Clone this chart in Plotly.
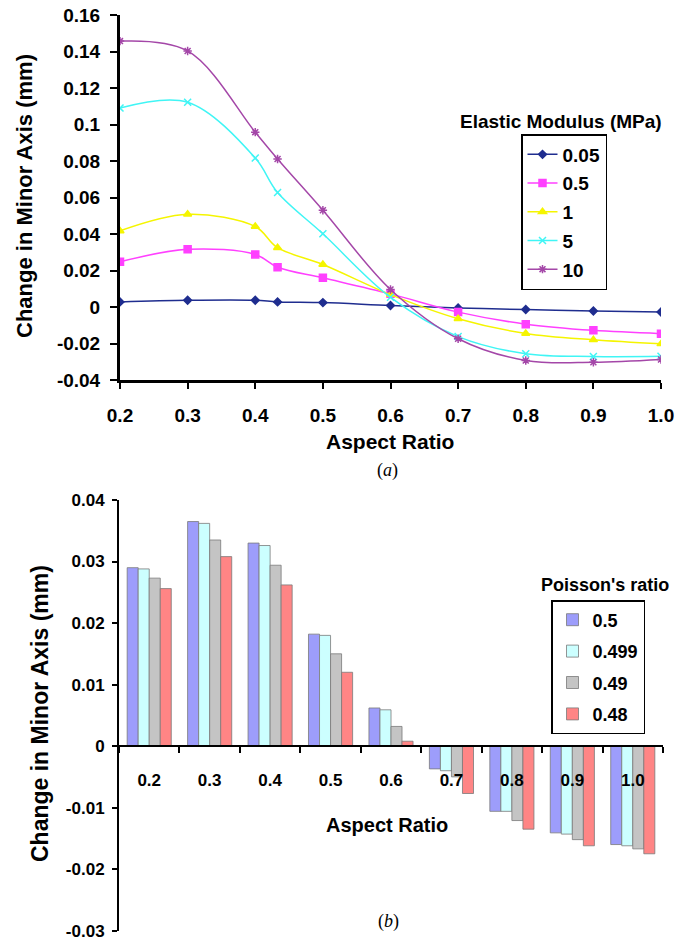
import plotly.graph_objects as go

W, H = 675, 942

# ---------------- (a) Elastic modulus, line chart ----------------
aspect_a = [0.2, 0.3, 0.4, 0.433, 0.5, 0.6, 0.7, 0.8, 0.9, 1.0]
modulus_names = ["0.05", "0.5", "1", "5", "10"]
e_005 = [0.0028, 0.0037, 0.0037, 0.0028, 0.0024, 0.0008, -0.0005, -0.0014, -0.0022, -0.0027]
e_05 = [0.0248, 0.0316, 0.0288, 0.0218, 0.0160, 0.0072, -0.0028, -0.0094, -0.0128, -0.0146]
e_1 = [0.0417, 0.0508, 0.0441, 0.0325, 0.0233, 0.0068, -0.0064, -0.0145, -0.0180, -0.0202]
e_5 = [0.1090, 0.1122, 0.0816, 0.0627, 0.0401, 0.0053, -0.0162, -0.0256, -0.0271, -0.0270]
e_10 = [0.1457, 0.1403, 0.0958, 0.0811, 0.0530, 0.0096, -0.0174, -0.0293, -0.0303, -0.0288]

a_yticks = [0.16, 0.14, 0.12, 0.10, 0.08, 0.06, 0.04, 0.02, 0.0, -0.02, -0.04]
a_yticktext = ["0.16", "0.14", "0.12", "0.1", "0.08", "0.06", "0.04", "0.02", "0", "-0.02", "-0.04"]
a_xticks = [0.2, 0.3, 0.4, 0.5, 0.6, 0.7, 0.8, 0.9, 1.0]
a_xticktext = ["0.2", "0.3", "0.4", "0.5", "0.6", "0.7", "0.8", "0.9", "1.0"]

# ---------------- (b) Poisson's ratio, bar chart ----------------
aspect_b = ["0.2", "0.3", "0.4", "0.5", "0.6", "0.7", "0.8", "0.9", "1.0"]
poisson_names = ["0.5", "0.499", "0.49", "0.48"]
p_05 = [0.0290, 0.0365, 0.0330, 0.0182, 0.0062, -0.0037, -0.0106, -0.0141, -0.0160]
p_0499 = [0.0288, 0.0362, 0.0326, 0.0180, 0.0059, -0.0040, -0.0106, -0.0143, -0.0162]
p_049 = [0.0273, 0.0335, 0.0294, 0.0150, 0.0032, -0.0050, -0.0121, -0.0152, -0.0167]
p_048 = [0.0256, 0.0308, 0.0262, 0.0120, 0.0008, -0.0077, -0.0135, -0.0162, -0.0175]

b_yticks = [0.04, 0.03, 0.02, 0.01, 0.0, -0.01, -0.02, -0.03]
b_yticktext = ["0.04", "0.03", "0.02", "0.01", "0", "-0.01", "-0.02", "-0.03"]

FONT = "Liberation Sans, Arial, sans-serif"
SERIF = "Liberation Serif, Times New Roman, serif"


def px_x(p):
    return p / W


def px_y(p):
    return 1 - p / H


fig = go.Figure()

line_series = [e_005, e_05, e_1, e_5, e_10]
line_colors = ["#1f2d8f", "#ff40ff", "#f5f500", "#40f5f5", "#a447a8"]
line_symbols = ["diamond", "square", "triangle-up", "x-thin-open", "asterisk-open"]
line_sizes = [6, 7, 7, 7, 7]
for name, ys, col, sym, sz in zip(modulus_names, line_series, line_colors, line_symbols, line_sizes):
    fig.add_trace(go.Scatter(
        x=aspect_a, y=ys, name=name, mode="lines+markers",
        line=dict(color=col, width=1.5, shape="spline", smoothing=1.0),
        marker=dict(symbol=sym, size=sz, color=col, line=dict(color=col, width=1.5)),
        xaxis="x", yaxis="y", legend="legend", legendgroup="a" + name,
    ))

bar_series = [p_05, p_0499, p_049, p_048]
bar_colors = ["#9d9dfb", "#ccffff", "#c4c4c4", "#ff8585"]
for name, ys, col in zip(poisson_names, bar_series, bar_colors):
    fig.add_trace(go.Bar(
        x=aspect_b, y=ys, name=name,
        marker=dict(color=col, line=dict(color="#7a7a7a", width=0.8)),
        xaxis="x2", yaxis="y2", legend="legend2", legendgroup="b" + name,
    ))

# plot area pixels
a_left, a_right, a_top, a_bottom = 120, 661, 15, 380
b_left, b_right, b_top, b_bottom = 119, 663, 500, 930.7
b_zero = 745.7

axis_common = dict(showline=True, linecolor="black", showgrid=False, zeroline=False,
                   ticks="outside", tickcolor="black", tickwidth=2)

fig.update_layout(
    width=W, height=H,
    margin=dict(l=0, r=0, t=0, b=0, autoexpand=False),
    paper_bgcolor="white", plot_bgcolor="white",
    showlegend=True,
    barmode="group", bargap=0.27, bargroupgap=0.0,
    xaxis=dict(axis_common, domain=[px_x(a_left), px_x(a_right)], anchor="y",
               range=[0.2, 1.0], tickvals=a_xticks, ticktext=a_xticktext,
               linewidth=3, ticklen=6, ticklabelstandoff=10,
               tickfont=dict(family=FONT, size=19, color="black", weight="bold")),
    yaxis=dict(axis_common, domain=[px_y(a_bottom), px_y(a_top)], anchor="x",
               range=[-0.04, 0.16], tickvals=a_yticks, ticktext=a_yticktext,
               linewidth=3, ticklen=7, ticklabelstandoff=6,
               tickfont=dict(family=FONT, size=19, color="black", weight="bold")),
    xaxis2=dict(axis_common, domain=[px_x(b_left), px_x(b_right)], anchor="free",
                position=px_y(b_zero), type="category", tickson="boundaries",
                linewidth=2, ticklen=6, ticklabelstandoff=19,
                tickfont=dict(family=FONT, size=17, color="black", weight="bold")),
    yaxis2=dict(axis_common, domain=[px_y(b_bottom), px_y(b_top)], anchor="x2",
                range=[-0.03, 0.04], tickvals=b_yticks, ticktext=b_yticktext,
                linewidth=2, ticklen=5, ticklabelstandoff=4,
                tickfont=dict(family=FONT, size=17, color="black", weight="bold")),
    legend=dict(x=px_x(521), y=px_y(134), xanchor="left", yanchor="top",
                bordercolor="black", borderwidth=1.5, bgcolor="white",
                tracegroupgap=1, itemwidth=30,
                font=dict(family=FONT, size=19, color="black", weight="bold")),
    legend2=dict(x=px_x(551), y=px_y(600), xanchor="left", yanchor="top",
                 bordercolor="black", borderwidth=1.5, bgcolor="white",
                 tracegroupgap=5, itemwidth=30,
                 font=dict(family=FONT, size=18, color="black", weight="bold")),
)

annotations = [
    # (a) axis titles, legend title, caption
    dict(text="Change in Minor Axis (mm)", x=px_x(25), y=px_y(196), textangle=-90,
         font=dict(family=FONT, size=22, color="black", weight="bold")),
    dict(text="Aspect Ratio", x=px_x(390), y=px_y(441),
         font=dict(family=FONT, size=21, color="black", weight="bold")),
    dict(text="Elastic Modulus (MPa)", x=px_x(561), y=px_y(122),
         font=dict(family=FONT, size=19, color="black", weight="bold")),
    dict(text="(<i>a</i>)", x=px_x(387), y=px_y(470),
         font=dict(family=SERIF, size=18, color="black")),
    # (b) axis titles, legend title, caption
    dict(text="Change in Minor Axis (mm)", x=px_x(40), y=px_y(714), textangle=-90,
         font=dict(family=FONT, size=23, color="black", weight="bold")),
    dict(text="Aspect Ratio", x=px_x(387), y=px_y(825),
         font=dict(family=FONT, size=20, color="black", weight="bold")),
    dict(text="Poisson's ratio", x=px_x(539), y=px_y(585), xanchor="left",
         font=dict(family=FONT, size=18, color="black", weight="bold")),
    dict(text="(<i>b</i>)", x=px_x(388), y=px_y(921),
         font=dict(family=SERIF, size=18, color="black")),
]
for a in annotations:
    a.update(xref="paper", yref="paper", showarrow=False)
    a.setdefault("xanchor", "center")
    a.setdefault("yanchor", "middle")
fig.update_layout(annotations=annotations)

fig.write_html("out.html", config={"displayModeBar": False},
               post_script="document.body.style.margin='0px';")
